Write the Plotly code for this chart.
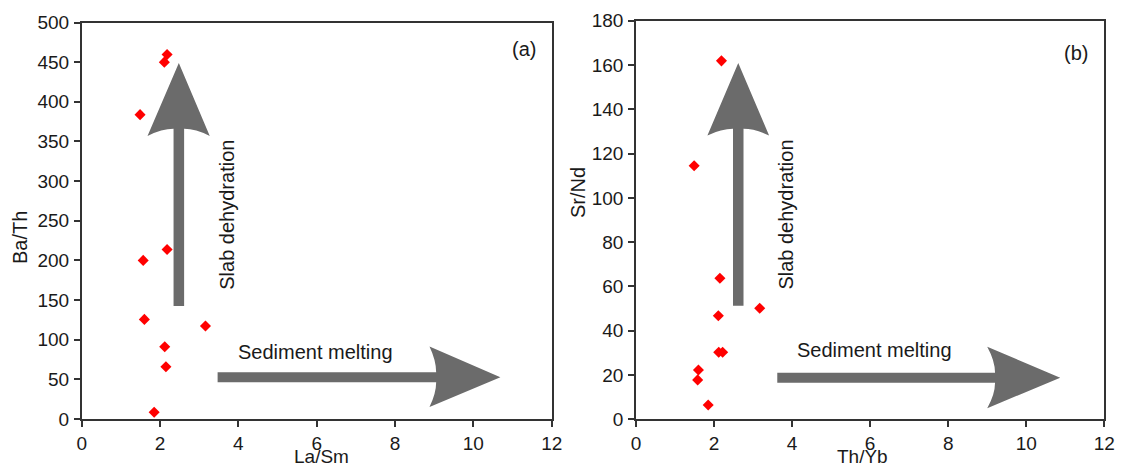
import plotly.graph_objects as go

# ---- data ----
la_sm = [2.18, 2.11, 1.49, 2.18, 1.57, 1.60, 3.16, 2.12, 2.15, 1.85]
ba_th = [459.6, 450.0, 383.8, 213.8, 200.0, 125.6, 117.2, 91.1, 65.9, 8.4]

th_yb = [2.19, 1.49, 2.15, 3.17, 2.11, 2.12, 2.22, 1.60, 1.58, 1.85]
sr_nd = [161.9, 114.5, 63.7, 50.2, 46.8, 30.3, 30.3, 22.3, 17.8, 6.5]

x_ticks = [0, 2, 4, 6, 8, 10, 12]
ya_ticks = list(range(0, 501, 50))
yb_ticks = list(range(0, 181, 20))

# arrow geometry in data units
arrow_a_up = dict(c=2.48, tail=142.5, tip=449, notch=366, clo=1.68, chi=3.27, cpos=357, hw=0.135)
arrow_a_right = dict(c=52.6, tail=3.47, tip=10.69, notch=9.05, clo=15.2, chi=91.3, cpos=8.88, hw=6.3)
arrow_b_up = dict(c=2.62, tail=51.3, tip=160.9, notch=131.2, clo=1.83, chi=3.41, cpos=128.2, hw=0.135)
arrow_b_right = dict(c=18.8, tail=3.62, tip=10.87, notch=9.2, clo=5.0, chi=32.8, cpos=9.0, hw=2.26)

FONT = "Liberation Sans, Arial, sans-serif"
ARROW_COL = "#6b6b6b"
AX_COL = "#333333"


def up_path(a):
    c, h = a["c"], a["hw"]
    xl, xr = c - h, c + h
    cxl = xl - 0.45 * (xl - a["clo"])
    cxr = xr + 0.45 * (a["chi"] - xr)
    return (f"M {xl},{a['tail']} L {xl},{a['notch']} "
            f"Q {cxl},{a['notch']} {a['clo']},{a['cpos']} "
            f"L {c},{a['tip']} L {a['chi']},{a['cpos']} "
            f"Q {cxr},{a['notch']} {xr},{a['notch']} "
            f"L {xr},{a['tail']} Z")


def right_path(a):
    c, h = a["c"], a["hw"]
    yb, yt = c - h, c + h
    cyb = yb - 0.45 * (yb - a["clo"])
    cyt = yt + 0.45 * (a["chi"] - yt)
    return (f"M {a['tail']},{yb} L {a['notch']},{yb} "
            f"Q {a['notch']},{cyb} {a['cpos']},{a['clo']} "
            f"L {a['tip']},{c} L {a['cpos']},{a['chi']} "
            f"Q {a['notch']},{cyt} {a['notch']},{yt} "
            f"L {a['tail']},{yt} Z")


W, H = 1121, 468
fig = go.Figure()

marker = dict(symbol="diamond", size=8.5, color="#ff0000", line=dict(width=0))
fig.add_trace(go.Scatter(x=la_sm, y=ba_th, mode="markers", marker=marker,
                         xaxis="x", yaxis="y", showlegend=False))
fig.add_trace(go.Scatter(x=th_yb, y=sr_nd, mode="markers", marker=marker,
                         xaxis="x2", yaxis="y2", showlegend=False))

shapes = []
for a, xr, yr in [(arrow_a_up, "x", "y"), (arrow_b_up, "x2", "y2")]:
    shapes.append(dict(type="path", path=up_path(a), xref=xr, yref=yr,
                       fillcolor=ARROW_COL, line=dict(width=0), layer="below"))
for a, xr, yr in [(arrow_a_right, "x", "y"), (arrow_b_right, "x2", "y2")]:
    shapes.append(dict(type="path", path=right_path(a), xref=xr, yref=yr,
                       fillcolor=ARROW_COL, line=dict(width=0), layer="below"))

axis_common = dict(showgrid=False, zeroline=False, showline=True, mirror=True,
                   automargin=False,
                   linecolor=AX_COL, linewidth=1.5, ticks="outside", ticklen=6,
                   tickwidth=1.5, tickcolor=AX_COL,
                   tickfont=dict(family=FONT, size=19, color="#1a1a1a"))

fig.update_layout(
    width=W, height=H,
    margin=dict(l=0, r=0, t=0, b=0, autoexpand=False),
    paper_bgcolor="white", plot_bgcolor="white",
    xaxis=dict(domain=[81.7 / W, 551.7 / W], range=[0, 12], tickvals=x_ticks,
               anchor="y", ticklabelstandoff=0, **axis_common),
    yaxis=dict(domain=[(H - 419) / H, (H - 22.5) / H], range=[0, 500],
               tickvals=ya_ticks, anchor="x", ticklabelstandoff=1, **axis_common),
    xaxis2=dict(domain=[636 / W, 1104.3 / W], range=[0, 12], tickvals=x_ticks,
                anchor="y2", ticklabelstandoff=0, **axis_common),
    yaxis2=dict(domain=[(H - 419.3) / H, (H - 20.8) / H], range=[0, 180],
                tickvals=yb_ticks, anchor="x2", ticklabelstandoff=1, **axis_common),
    shapes=shapes,
)

tf = dict(family=FONT, size=20, color="#1a1a1a")
tfx = dict(family=FONT, size=19, color="#1a1a1a")
ann = [
    # axis titles (paper coordinates)
    dict(text="Ba/Th", x=20 / W, y=1 - 238 / H, textangle=-90, font=tf),
    dict(text="La/Sm", x=321 / W, y=1 - 456.5 / H, font=tfx),
    dict(text="Sr/Nd", x=578 / W, y=1 - 193 / H, textangle=-90, font=tf),
    dict(text="Th/Yb", x=862 / W, y=1 - 456.5 / H, font=tfx),
]
for a in ann:
    a.update(xref="paper", yref="paper", xanchor="center", yanchor="middle",
             showarrow=False)
inner = [
    dict(text="(a)", x=11.28, y=466, xref="x", yref="y"),
    dict(text="(b)", x=11.27, y=165.5, xref="x2", yref="y2"),
    dict(text="Sediment melting", x=5.96, y=84.8, xref="x", yref="y"),
    dict(text="Sediment melting", x=6.12, y=31.3, xref="x2", yref="y2"),
    dict(text="Slab dehydration", x=3.71, y=257.6, xref="x", yref="y", textangle=-90),
    dict(text="Slab dehydration", x=3.82, y=92.5, xref="x2", yref="y2", textangle=-90),
]
for a in inner:
    a.update(xanchor="center", yanchor="middle", showarrow=False, font=tf)
fig.update_layout(annotations=ann + inner)

fig.write_html("out.html")
